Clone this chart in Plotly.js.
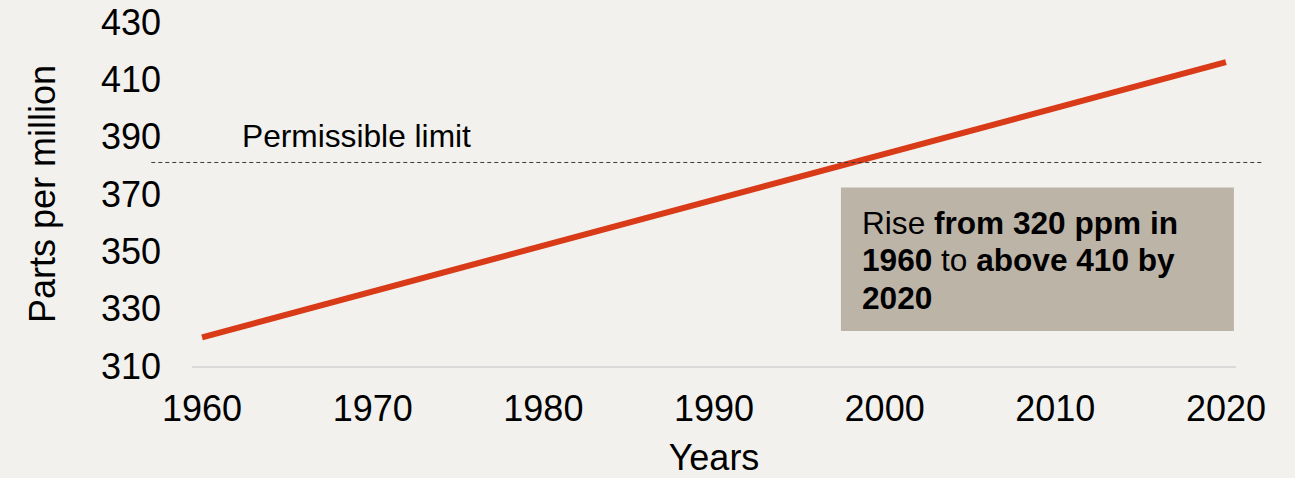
<!DOCTYPE html>
<html>
<head>
<meta charset="utf-8">
<script src="https://cdn.plot.ly/plotly-3.0.1.min.js"></script>
<style>
  html, body { margin: 0; padding: 0; background: #F2F1EE; }
  #chart { width: 1295px; height: 478px; }
</style>
</head>
<body>
<div id="chart"></div>
<script>
// CO2 concentration by decade (ppm)
const years = [1960, 1970, 1980, 1990, 2000, 2010, 2020];
const ppm = [320, 336, 352, 368, 384, 400, 416];

// Reference level and its label
const permissibleLimit = 381;
const limitLabel = 'Permissible limit';

// Axis ticks
const xTicks = [1960, 1970, 1980, 1990, 2000, 2010, 2020];
const yTicks = [310, 330, 350, 370, 390, 410, 430];

// Callout text, one entry per line
const calloutLines = [
  'Rise <b>from 320 ppm in</b>',
  '<b>1960</b> to <b>above 410 by</b>',
  '<b>2020</b>'
];
const calloutLineY = [360.0, 347.1, 333.8];

const FONT = 'Liberation Sans, Arial, sans-serif';

const trace = {
  x: years,
  y: ppm,
  type: 'scatter',
  mode: 'lines',
  line: { color: '#D93A17', width: 6 },
  hoverinfo: 'skip'
};

const calloutAnnotations = calloutLines.map((txt, i) => ({
  xref: 'paper', yref: 'y', x: 0.6395, y: calloutLineY[i],
  xanchor: 'left', yanchor: 'middle', align: 'left', showarrow: false,
  text: txt,
  font: { family: FONT, size: 31.6, color: '#000000' }
}));

const layout = {
  width: 1295,
  height: 478,
  paper_bgcolor: '#F2F1EE',
  plot_bgcolor: '#F2F1EE',
  margin: { l: 192, r: 59, t: 22, b: 112 },
  showlegend: false,
  font: { family: FONT, color: '#000000', size: 36 },
  xaxis: {
    range: [1959.41, 2020.59],
    tickvals: xTicks,
    ticktext: xTicks.map(String),
    showgrid: false,
    zeroline: false,
    showline: true,
    linecolor: '#D9D9D9',
    linewidth: 2,
    ticks: '',
    ticklabelstandoff: 10,
    tickfont: { family: FONT, size: 36, color: '#000000' },
    title: { text: 'Years', font: { family: FONT, size: 36, color: '#000000' }, standoff: 19 }
  },
  yaxis: {
    range: [310, 430],
    tickvals: yTicks,
    ticktext: yTicks.map(String),
    showgrid: false,
    zeroline: false,
    showline: false,
    ticks: '',
    ticklabelstandoff: 30,
    tickfont: { family: FONT, size: 36, color: '#000000' },
    title: { text: 'Parts per million', font: { family: FONT, size: 36, color: '#000000' }, standoff: 34 }
  },
  shapes: [
    {
      type: 'line', xref: 'paper', yref: 'y',
      x0: -0.039, x1: 1.025, y0: permissibleLimit, y1: permissibleLimit,
      line: { color: '#3A3A3A', width: 1, dash: '4px,3px' }
    },
    {
      type: 'rect', xref: 'paper', yref: 'y',
      x0: 0.6216, x1: 0.998, y0: 322.2, y1: 372.3,
      fillcolor: '#BDB4A8', line: { width: 0 }, layer: 'below'
    }
  ],
  annotations: [
    {
      xref: 'paper', yref: 'y', x: 0.0460, y: 390.3,
      xanchor: 'left', yanchor: 'middle', showarrow: false,
      text: limitLabel,
      font: { family: FONT, size: 31.7, color: '#000000' }
    }
  ].concat(calloutAnnotations)
};

Plotly.newPlot('chart', [trace], layout, { displayModeBar: false, staticPlot: true });
</script>
</body>
</html>
